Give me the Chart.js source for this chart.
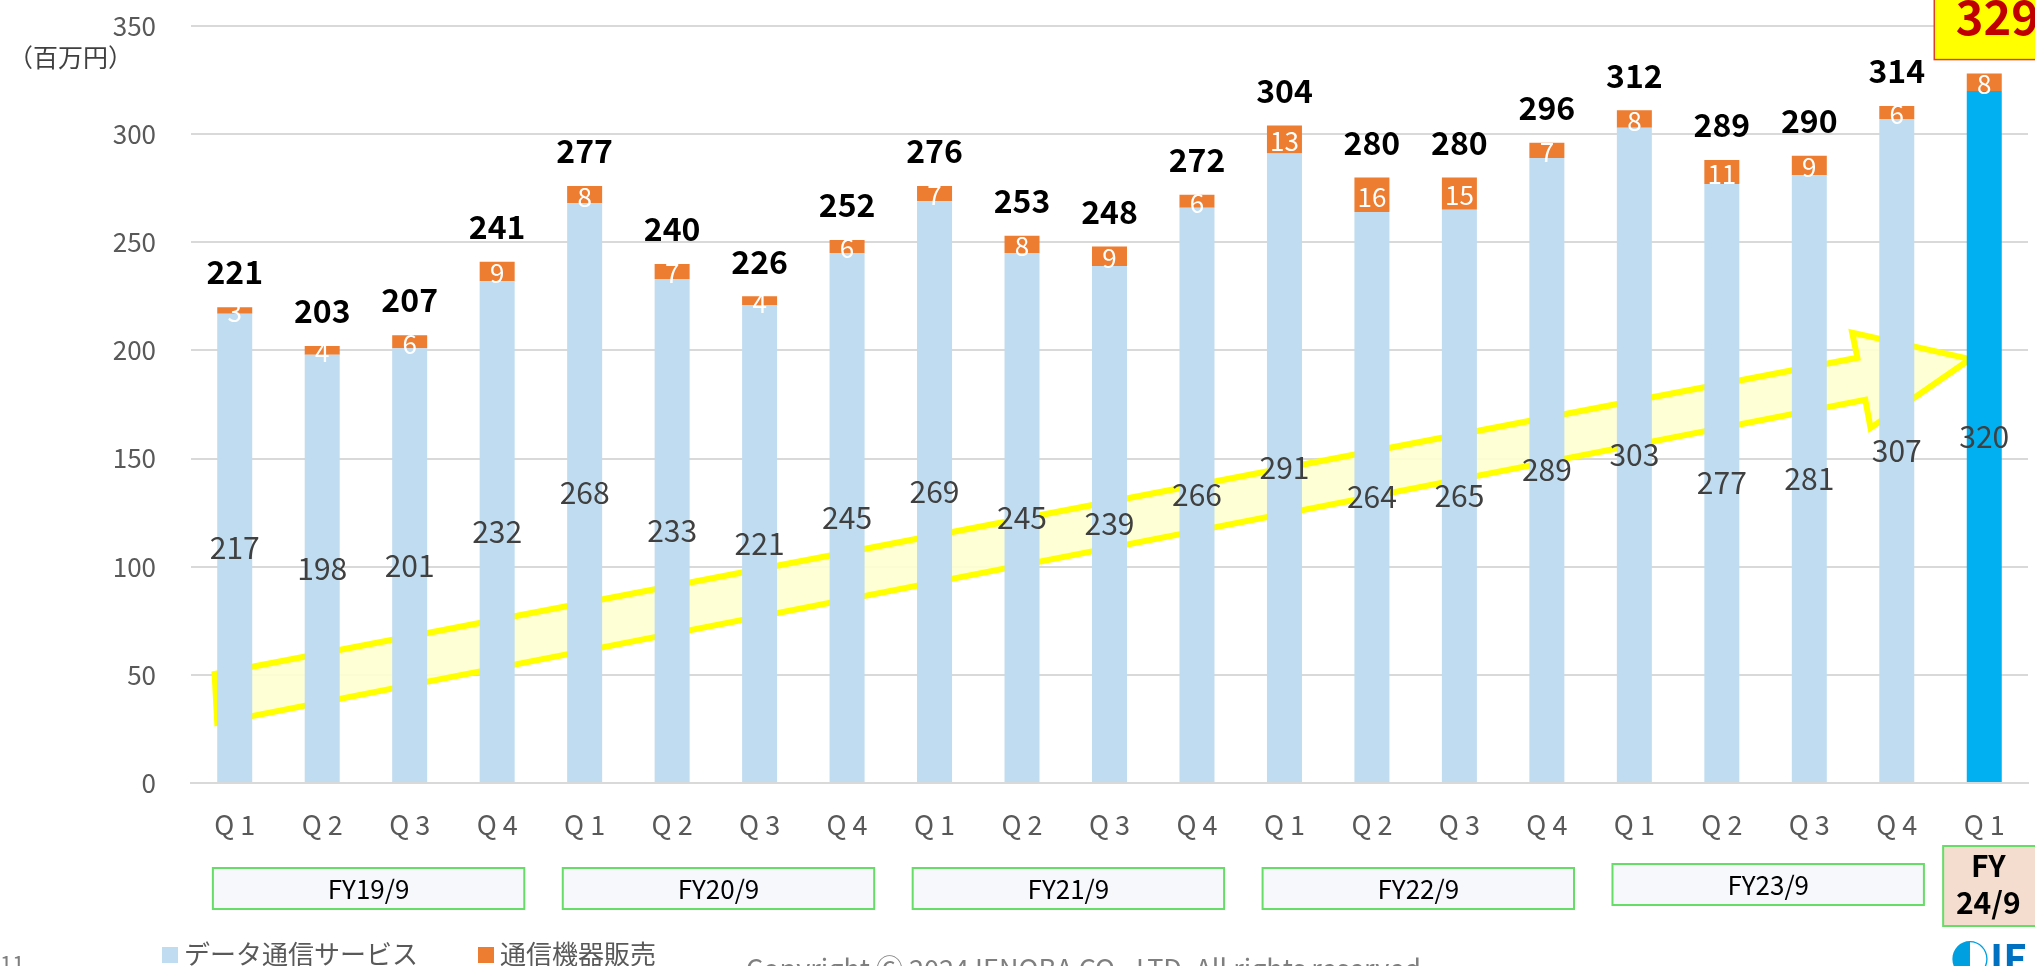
<!DOCTYPE html>
<html>
<head>
<meta charset="utf-8">
<script src="https://cdn.jsdelivr.net/npm/chart.js@4"></script>
<style>
  html, body { margin: 0; padding: 0; background: #fff; overflow: hidden; }
  body { width: 2035px; height: 966px; position: relative; font-family: "Noto Sans CJK JP", "Noto Sans", sans-serif; }
  #chart { position: absolute; left: 0; top: 0; }
  .unit { position: absolute; left: 8px; top: 38px; font-size: 25px; color: #404040; }
  .legend { position: absolute; top: 934px; font-size: 26px; color: #595959; white-space: nowrap; }
  .legend span.box { display: inline-block; width: 16px; height: 16px; margin-right: 6px; vertical-align: 1px; }
  .copy { position: absolute; left: 746px; top: 948px; font-size: 27px; color: #7f7f7f; white-space: nowrap; }
  .page { position: absolute; left: 0; top: 946px; font-size: 22px; color: #7f7f7f; }
  .logo { position: absolute; left: 1950px; top: 928px; font-size: 40px; font-weight: bold; color: #0070c0; white-space: nowrap; }
</style>
</head>
<body>
<canvas id="chart" width="2035" height="966"></canvas>
<div class="unit">（百万円）</div>
<div class="legend" style="left:162px"><span class="box" style="background:#c0dcf0"></span>データ通信サービス</div>
<div class="legend" style="left:478px"><span class="box" style="background:#ed7d31"></span>通信機器販売</div>
<div class="copy">Copyright Ⓒ 2024 IENOBA CO., LTD. All rights reserved</div>
<div class="page">11</div>
<div class="logo"><span style="color:#00a0e0">◐</span>IE</div>
<script>
// quarters (FY19/9 Q1 ... FY24/9 Q1)
const quarterLabels = [
  'Q 1', 'Q 2', 'Q 3', 'Q 4',
  'Q 1', 'Q 2', 'Q 3', 'Q 4',
  'Q 1', 'Q 2', 'Q 3', 'Q 4',
  'Q 1', 'Q 2', 'Q 3', 'Q 4',
  'Q 1', 'Q 2', 'Q 3', 'Q 4',
  'Q 1'
];
const dataService = [217, 198, 201, 232, 268, 233, 221, 245, 269, 245, 239, 266, 291, 264, 265, 289, 303, 277, 281, 307, 320];
const deviceSales = [3, 4, 6, 9, 8, 7, 4, 6, 7, 8, 9, 6, 13, 16, 15, 7, 8, 11, 9, 6, 8];
const totals = [221, 203, 207, 241, 277, 240, 226, 252, 276, 253, 248, 272, 304, 280, 280, 296, 312, 289, 290, 314, 329];
const fiscalYears = ['FY19/9', 'FY20/9', 'FY21/9', 'FY22/9', 'FY23/9'];
const currentYear = ['FY', '24/9'];
const yTicks = [0, 50, 100, 150, 200, 250, 300, 350];

const FONT = '"Noto Sans CJK JP", "Noto Sans", sans-serif';
const lastIdx = dataService.length - 1;

// yellow trend arrow, in (category index, value) units
const trendArrow = [
  [-0.23, 50.4], [18.55, 196.6], [18.49, 208.2], [19.84, 196],
  [18.70, 164.2], [18.64, 177.2], [-0.20, 27.8]
];

const arrowPlugin = {
  id: 'arrow',
  beforeDatasetsDraw(chart) {
    const { ctx, scales: { x, y } } = chart;
    ctx.save();
    ctx.beginPath();
    trendArrow.forEach(([i, v], k) => {
      const px = x.getPixelForValue(i), py = y.getPixelForValue(v);
      if (k === 0) ctx.moveTo(px, py); else ctx.lineTo(px, py);
    });
    ctx.closePath();
    ctx.fillStyle = 'rgba(255,255,210,0.9)';
    ctx.fill();
    ctx.lineWidth = 6;
    ctx.lineJoin = 'miter';
    ctx.strokeStyle = '#ffff00';
    ctx.stroke();
    ctx.restore();
  }
};

const labelPlugin = {
  id: 'labels',
  afterDatasetsDraw(chart) {
    const { ctx } = chart;
    const blue = chart.getDatasetMeta(0).data;
    const orange = chart.getDatasetMeta(1).data;
    ctx.save();
    ctx.textAlign = 'center';
    ctx.textBaseline = 'middle';
    blue.forEach((bar, i) => {
      // data communication value, centred in bar
      ctx.font = '30px ' + FONT;
      ctx.fillStyle = '#404040';
      ctx.fillText(dataService[i], bar.x, (bar.y + bar.base) / 2);
      // device sales value, white in orange segment
      const ob = orange[i];
      ctx.font = '26px ' + FONT;
      ctx.fillStyle = '#ffffff';
      ctx.fillText(deviceSales[i], ob.x, (ob.y + ob.base) / 2 + 2);
      // total
      if (i < lastIdx) {
        ctx.font = 'bold 32px ' + FONT;
        ctx.fillStyle = '#000000';
        ctx.fillText(totals[i], ob.x, ob.y - 35);
      } else {
        const bx = ob.x - 50, by = -10, bw = 110, bh = ob.y - 14 - by;
        ctx.fillStyle = '#ffff00';
        ctx.fillRect(bx, by, bw, bh);
        ctx.strokeStyle = '#e04020';
        ctx.lineWidth = 1.5;
        ctx.strokeRect(bx, by, bw, bh);
        ctx.font = '600 47px ' + FONT;
        ctx.fillStyle = '#c00000';
        ctx.fillText(totals[i], ob.x + 13, ob.y - 56);
      }
    });
    ctx.restore();
  },
  afterDraw(chart) {
    const { ctx, scales: { x } } = chart;
    const step = x.getPixelForValue(1) - x.getPixelForValue(0);
    ctx.save();
    ctx.textAlign = 'center';
    ctx.textBaseline = 'middle';
    fiscalYears.forEach((fy, k) => {
      const l = x.getPixelForValue(k * 4) - 0.25 * step;
      const r = x.getPixelForValue(k * 4 + 3) + 0.31 * step;
      const t = k === 4 ? 864 : 868, h = 41;
      ctx.fillStyle = '#f6f8fc';
      ctx.fillRect(l, t, r - l, h);
      ctx.strokeStyle = '#66dd66';
      ctx.lineWidth = 2;
      ctx.strokeRect(l, t, r - l, h);
      ctx.font = '26px ' + FONT;
      ctx.fillStyle = '#000000';
      ctx.fillText(fy, (l + r) / 2, t + h / 2 + 1);
    });
    const cx = x.getPixelForValue(lastIdx);
    const l = cx - 0.47 * step;
    ctx.fillStyle = '#f4ddce';
    ctx.fillRect(l, 846, 120, 80);
    ctx.strokeStyle = '#66dd66';
    ctx.lineWidth = 2;
    ctx.strokeRect(l, 846, 120, 80);
    ctx.font = 'bold 30px ' + FONT;
    ctx.fillStyle = '#000000';
    ctx.fillText(currentYear[0], cx + 4, 866);
    ctx.fillText(currentYear[1], cx + 4, 903);
    ctx.restore();
  }
};

const ctx = document.getElementById('chart').getContext('2d');
new Chart(ctx, {
  type: 'bar',
  data: {
    labels: quarterLabels,
    datasets: [{
      label: 'データ通信サービス',
      data: dataService,
      backgroundColor: dataService.map((v, i) => i === lastIdx ? '#00b0f0' : '#c0dcf0'),
      borderWidth: 0
    }, {
      label: '通信機器販売',
      data: deviceSales,
      backgroundColor: '#ed7d31',
      borderWidth: 0
    }]
  },
  options: {
    responsive: false,
    devicePixelRatio: 1,
    animation: false,
    categoryPercentage: 1,
    barPercentage: 0.4,
    layout: { padding: { top: 26, left: 0, right: 7, bottom: 123 } },
    plugins: {
      legend: { display: false },
      tooltip: { enabled: false }
    },
    scales: {
      x: {
        stacked: true,
        grid: { display: false },
        border: { color: '#d9d9d9', width: 2 },
        ticks: { color: '#595959', font: { family: FONT, size: 27 }, padding: 18, maxRotation: 0 },
        afterFit(scale) { scale.height = 60; }
      },
      y: {
        stacked: true,
        min: 0,
        max: 350,
        afterBuildTicks(scale) { scale.ticks = yTicks.map(v => ({ value: v })); },
        grid: { color: '#d9d9d9', lineWidth: 2, drawTicks: false },
        border: { display: false },
        ticks: { color: '#595959', font: { family: FONT, size: 26 }, padding: 35 },
        afterFit(scale) {
          scale.width = 191;
          scale.paddingTop = 0;
          scale.paddingBottom = 0;
        }
      }
    }
  },
  plugins: [arrowPlugin, labelPlugin]
});
</script>
</body>
</html>
